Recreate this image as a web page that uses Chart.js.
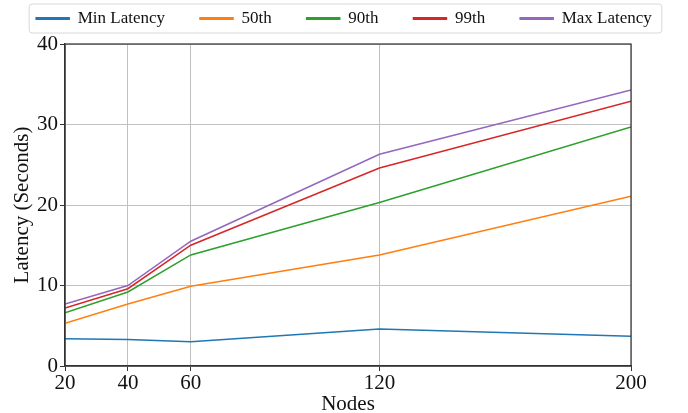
<!DOCTYPE html>
<html lang="en">
<head>
    <title>Latency vs Nodes</title>
    <meta charset="utf-8">
    <script src="https://cdn.jsdelivr.net/npm/chart.js@4.4.0/dist/chart.umd.min.js"></script>
    <style>
        body { margin: 0; background: #fff; }
        #wrap { width: 688px; height: 413px; }
    </style>
</head>
<body>
<div id="wrap"><canvas id="latency-chart"></canvas></div>
<script>
// values
const nodes = [20, 40, 60, 120, 200];
const minLatency = [3.4, 3.3, 3.0, 4.6, 3.7];
const p50 = [5.3, 7.7, 9.9, 13.8, 21.1];
const p90 = [6.6, 9.2, 13.8, 20.3, 29.7];
const p99 = [7.2, 9.6, 15.0, 24.6, 32.9];
const maxLatency = [7.7, 10.0, 15.5, 26.3, 34.3];
const yTicks = [0, 10, 20, 30, 40];

const serif = "'Liberation Serif', 'DejaVu Serif', serif";

function series(label, values, color) {
    return {
        label: label,
        data: nodes.map((n, i) => ({ x: n, y: values[i] })),
        borderColor: color,
        backgroundColor: color,
        borderWidth: 1.5,
        pointRadius: 0,
        tension: 0
    };
}

// empty axis used only to reserve space
function spacer(position, size) {
    const horizontal = position === "top" || position === "bottom";
    return {
        position: position,
        type: "linear",
        min: 0,
        max: 1,
        display: true,
        ticks: { display: false },
        grid: { display: false, drawTicks: false },
        border: { display: false },
        afterFit: s => { if (horizontal) s.height = size; else s.width = size; }
    };
}

// box around the legend and a frame around the plot area
const frames = {
    id: "frames",
    afterDraw(chart) {
        const ctx = chart.ctx;
        const boxes = chart.legend.legendHitBoxes;
        if (boxes && boxes.length) {
            let l = Infinity, r = -Infinity, t = Infinity, b = -Infinity;
            boxes.forEach(h => {
                l = Math.min(l, h.left); r = Math.max(r, h.left + h.width);
                t = Math.min(t, h.top); b = Math.max(b, h.top + h.height);
            });
            ctx.save();
            ctx.strokeStyle = "#d8d8d8";
            ctx.lineWidth = 1;
            ctx.beginPath();
            ctx.roundRect(l - 7, t - 6, r - l + 17, b - t + 12, 3);
            ctx.stroke();
            ctx.restore();
        }
        const a = chart.chartArea;
        ctx.save();
        ctx.strokeStyle = "#333";
        ctx.lineWidth = 1.2;
        ctx.strokeRect(a.left, a.top, a.right - a.left, a.bottom - a.top);
        ctx.restore();
    }
};

new Chart("latency-chart", {
    type: "line",
    data: {
        datasets: [
            series("Min Latency", minLatency, "#1f77b4"),
            series("50th", p50, "#ff7f0e"),
            series("90th", p90, "#2ca02c"),
            series("99th", p99, "#d62728"),
            series("Max Latency", maxLatency, "#9467bd")
        ]
    },
    options: {
        responsive: true,
        maintainAspectRatio: false,
        animation: false,
        layout: { padding: { left: 0, right: 0, top: -25, bottom: 0 } },
        plugins: {
            tooltip: { enabled: false },
            legend: {
                position: "top",
                labels: {
                    color: "#111",
                    font: { family: serif, size: 17 },
                    boxWidth: 33,
                    boxHeight: 1.5,
                    padding: 35
                }
            }
        },
        scales: {
            x: {
                type: "linear",
                min: 20,
                max: 200,
                afterBuildTicks: s => { s.ticks = nodes.map(v => ({ value: v })); },
                afterFit: s => { s.height = 47; },
                grid: { color: "#c0c0c0", lineWidth: 1, tickLength: 5, tickColor: "#333" },
                border: { color: "#333", width: 1.2 },
                ticks: { color: "#111", font: { family: serif, size: 21 }, padding: 0, maxRotation: 0 },
                title: { display: true, text: "Nodes", color: "#111", font: { family: serif, size: 21 }, padding: { top: 0, bottom: -4 } }
            },
            y: {
                min: 0,
                max: 40,
                afterBuildTicks: s => { s.ticks = yTicks.map(v => ({ value: v })); },
                afterFit: s => { s.width = 65; },
                grid: { color: "#c0c0c0", lineWidth: 1, tickLength: 5, tickColor: "#333" },
                border: { color: "#333", width: 1.2 },
                ticks: { color: "#111", font: { family: serif, size: 21 }, padding: 2 },
                title: { display: true, text: "Latency (Seconds)", color: "#111", font: { family: serif, size: 21 }, padding: { top: 10, bottom: 0 } }
            },
            padTop: spacer("top", 7),
            padRight: spacer("right", 57)
        }
    },
    plugins: [frames]
});
</script>
</body>
</html>
